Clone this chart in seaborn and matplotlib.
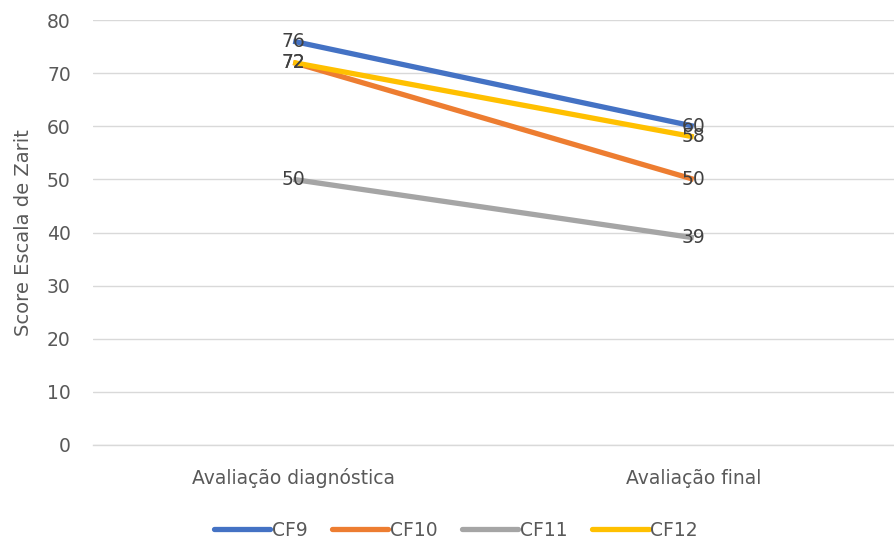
import matplotlib
matplotlib.use("Agg")
import matplotlib.pyplot as plt
import matplotlib.transforms as mtransforms
import seaborn as sns
import pandas as pd

categories = ["Avaliação diagnóstica", "Avaliação final"]
series_names = ["CF9", "CF10", "CF11", "CF12"]
cf9 = [76, 60]
cf10 = [72, 50]
cf11 = [50, 39]
cf12 = [72, 58]
colors = ["#4472C4", "#ED7D31", "#A5A5A5", "#FFC000"]
y_ticks = [0, 10, 20, 30, 40, 50, 60, 70, 80]

values = [cf9, cf10, cf11, cf12]
rows = []
for name, vals in zip(series_names, values):
    for i, (c, v) in enumerate(zip(categories, vals)):
        rows.append({"cat": i, "label": c, "series": name, "score": v})
df = pd.DataFrame(rows)

sns.set_theme(style="white")
plt.rcParams["font.family"] = ["DejaVu Sans"]

fig = plt.figure(figsize=(8.94, 5.40), dpi=100)
ax = fig.add_axes([93/894, 1-445/540, 1-93/894, (445-20)/540])

sns.lineplot(data=df, x="cat", y="score", hue="series", palette=colors,
             hue_order=series_names, linewidth=3.8, ax=ax, legend=False,
             solid_capstyle="butt")

for name, vals in zip(series_names, values):
    for i, v in enumerate(vals):
        ax.text(i, v, str(v), ha="center", va="center", fontsize=13.5,
                color="#404040")

ax.set_xlim(-0.5, 1.5)
ax.set_ylim(0, 80)
ax.set_yticks(y_ticks)
ax.set_xticks(range(len(categories)))
ax.set_xticklabels([])
trans = mtransforms.blended_transform_factory(ax.transData, ax.transAxes)
for i, c in enumerate(categories):
    ax.text(i, -0.092, c, transform=trans, ha="center", va="baseline",
            fontsize=13.5, color="#595959")
ax.grid(axis="y", color="#D9D9D9", linewidth=1)
ax.set_axisbelow(True)
for s in ["top", "right", "left"]:
    ax.spines[s].set_visible(False)
ax.spines["bottom"].set_color("#D9D9D9")
ax.spines["bottom"].set_linewidth(1)
ax.tick_params(axis="both", length=0, labelsize=13.5, colors="#595959")
ax.tick_params(axis="y", pad=16)
ax.set_xlabel("")
ax.set_ylabel("Score Escala de Zarit", fontsize=14, color="#595959", labelpad=10)

handles = [plt.Line2D([], [], color=c, linewidth=3.8) for c in colors]
fig.legend(handles, series_names, loc="center", bbox_to_anchor=(0.51, 1-530/540),
           ncol=4, frameon=False, fontsize=13.5, handlelength=3.0,
           handletextpad=0.1, columnspacing=1.3, labelcolor="#595959")

fig.savefig("out.png", dpi=100)
